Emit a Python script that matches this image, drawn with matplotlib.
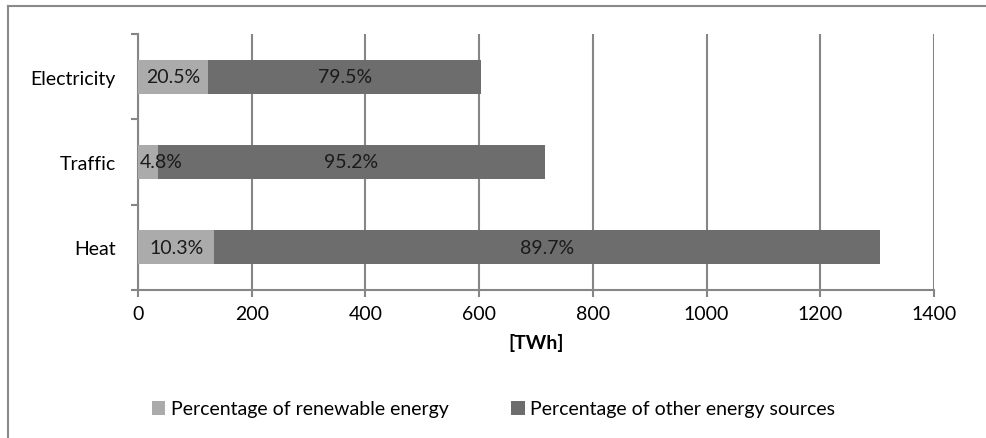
import matplotlib.pyplot as plt
from matplotlib.lines import Line2D
import numpy as np

plt.rcParams['font.family'] = ['Lato', 'DejaVu Sans']

sectors = ['Heat', 'Traffic', 'Electricity']
totals = [1305, 716, 603]          # TWh
renewable_share = [10.3, 4.8, 20.5]  # %
other_share = [89.7, 95.2, 79.5]     # %

LIGHT = '#ababab'
DARK = '#6d6d6d'
GRID = '#868686'
FS = 14


def main():
    fig = plt.figure(figsize=(9.87, 4.39), dpi=100)
    W, H = 987, 439
    ax = fig.add_axes([138 / W, 1 - 291 / H, (934 - 138) / W, (291 - 35) / H])

    tot = np.array(totals, dtype=float)
    ren = tot * np.array(renewable_share) / 100
    oth = tot * np.array(other_share) / 100
    y = np.arange(len(sectors))

    ax.barh(y, ren, height=0.4, color=LIGHT, label='Percentage of renewable energy', zorder=3)
    ax.barh(y, oth, left=ren, height=0.4, color=DARK, label='Percentage of other energy sources', zorder=3)

    for i in range(len(sectors)):
        ax.text(max(ren[i] / 2, 40), y[i], f'{renewable_share[i]}%', ha='center', va='center',
                fontsize=FS, color='#1a1a1a', zorder=4)
        ax.text(ren[i] + oth[i] / 2, y[i], f'{other_share[i]}%', ha='center', va='center',
                fontsize=FS, color='#1a1a1a', zorder=4)

    ax.set_xlim(0, 1400)
    ax.set_ylim(-0.5, len(sectors) - 0.5)
    ax.set_xticks(np.arange(0, 1401, 200))
    ax.set_yticks(y)
    ax.set_yticklabels(sectors)
    ax.set_yticks(np.arange(-0.5, len(sectors), 1), minor=True)
    ax.tick_params(axis='y', which='major', length=0, labelsize=FS, pad=16)
    ax.tick_params(axis='y', which='minor', length=5, width=1.5, color=GRID)
    ax.tick_params(axis='x', length=5, width=1.5, color=GRID, labelsize=FS, pad=6)
    ax.grid(axis='x', color=GRID, linewidth=1.5, zorder=0)
    for s in ['top', 'right']:
        ax.spines[s].set_visible(False)
    for s in ['left', 'bottom']:
        ax.spines[s].set_color(GRID)
        ax.spines[s].set_linewidth(1.5)

    ax.set_xlabel('[TWh]', fontsize=FS, fontweight='bold', labelpad=8)

    ax.legend(loc='center', bbox_to_anchor=(0.5, 1 - 410 / H), bbox_transform=fig.transFigure,
              ncol=2, frameon=False, fontsize=FS, handlelength=0.7, handleheight=0.7,
              handletextpad=0.3, columnspacing=3.2)

    # outer frame (top and left edges visible)
    fig.add_artist(Line2D([8 / W, 1], [1 - 7 / H, 1 - 7 / H], color='#8a8a8a', lw=1.5,
                          transform=fig.transFigure))
    fig.add_artist(Line2D([8 / W, 8 / W], [0, 1 - 7 / H], color='#8a8a8a', lw=1.5,
                          transform=fig.transFigure))

    fig.savefig('out.png', dpi=100)


if __name__ == "__main__":
    main()
